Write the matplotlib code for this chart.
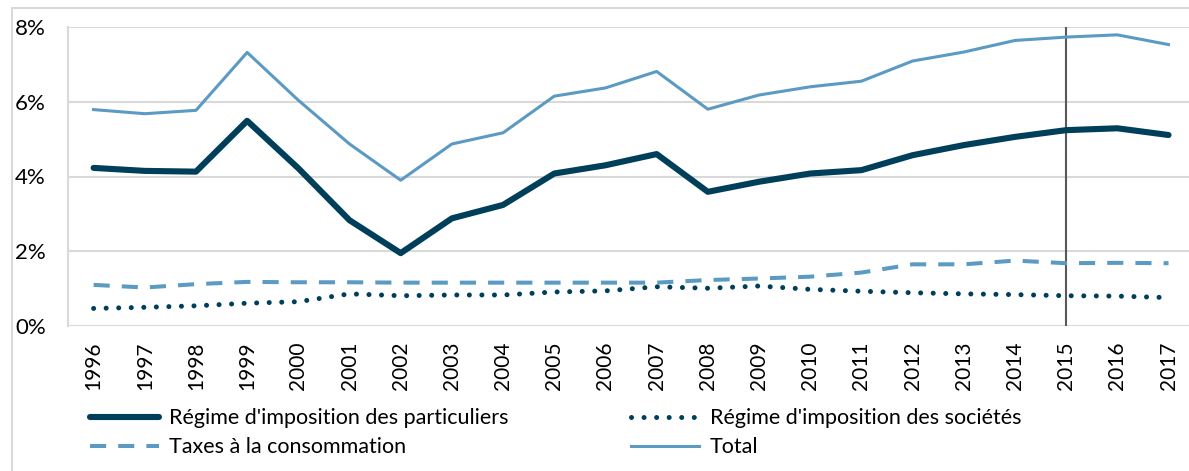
import matplotlib
matplotlib.use("Agg")
import matplotlib.pyplot as plt
from matplotlib.patches import Rectangle
from matplotlib.ticker import FuncFormatter

plt.rcParams["font.family"] = ["Lato", "DejaVu Sans"]

years = [str(y) for y in range(1996, 2018)]

particuliers = [4.23, 4.15, 4.13, 5.49, 4.22, 2.83, 1.95, 2.88, 3.24, 4.08, 4.30,
                4.60, 3.59, 3.86, 4.08, 4.17, 4.57, 4.84, 5.06, 5.24, 5.29, 5.11]
societes = [0.47, 0.50, 0.54, 0.61, 0.65, 0.86, 0.81, 0.83, 0.83, 0.91, 0.94,
            1.05, 1.01, 1.07, 0.98, 0.93, 0.89, 0.86, 0.84, 0.81, 0.80, 0.76]
consommation = [1.10, 1.03, 1.12, 1.18, 1.17, 1.17, 1.16, 1.16, 1.16, 1.16, 1.16,
                1.16, 1.23, 1.27, 1.32, 1.43, 1.65, 1.65, 1.75, 1.68, 1.69, 1.68]
total = [5.79, 5.68, 5.77, 7.32, 6.04, 4.87, 3.90, 4.87, 5.17, 6.15, 6.37,
         6.81, 5.80, 6.18, 6.40, 6.55, 7.09, 7.33, 7.64, 7.73, 7.79, 7.53]

marker_year = "2015"

DARK = "#003F5A"
LIGHT = "#5A9AC3"
GRID = "#D9D9D9"

fig = plt.figure(figsize=(11.89, 4.71), dpi=100)
ax = fig.add_axes([68 / 1189, 1 - 326 / 471, 1 - 68 / 1189, (326 - 27) / 471])

x = list(range(len(years)))
l_part, = ax.plot(x, particuliers, color=DARK, lw=4.4, solid_joinstyle="round",
                  solid_capstyle="round", label="Régime d'imposition des particuliers")
l_soc, = ax.plot(x, societes, color=DARK, lw=3.6, linestyle=(0, (0.01, 2.5)),
                 dash_capstyle="round", label="Régime d'imposition des sociétés")
l_cons, = ax.plot(x, consommation, color=LIGHT, lw=2.9, linestyle=(0, (4, 3)),
                  label="Taxes à la consommation")
l_tot, = ax.plot(x, total, color=LIGHT, lw=2.2, solid_joinstyle="round",
                 label="Total")

ax.vlines(years.index(marker_year), 0, 8, color="#595959", lw=1.5, zorder=1)

ax.set_xlim(-0.5, 21.4)
ax.set_ylim(0, 8)
ax.set_yticks([0, 2, 4, 6, 8])
ax.yaxis.set_major_formatter(FuncFormatter(lambda v, _: f"{v:.0f}%"))
ax.set_xticks(x)
ax.set_xticklabels(years, rotation=90)
ax.tick_params(axis="x", length=0, pad=11, labelsize=15)
ax.tick_params(axis="y", length=0, pad=16, labelsize=16)
ax.grid(axis="y", color=GRID, lw=1.5)
ax.set_axisbelow(True)
for side in ["top", "right", "bottom"]:
    ax.spines[side].set_visible(False)
ax.spines["left"].set_color(GRID)
ax.spines["left"].set_linewidth(1.5)

# outer chart border
fig.patches.append(Rectangle((12 / 1189, -0.1), 1.2, 1 - 8 / 471 + 0.1,
                             transform=fig.transFigure, fill=False,
                             edgecolor=GRID, lw=1.5))

fig.legend(handles=[l_part, l_cons, l_soc, l_tot], ncol=2, frameon=False,
           loc="upper left", bbox_to_anchor=(71 / 1189, 1 - 389 / 471),
           fontsize=15.5, handlelength=3.2, handletextpad=0.47,
           columnspacing=5.65, labelspacing=0.42)

fig.savefig("out.png", dpi=100)
